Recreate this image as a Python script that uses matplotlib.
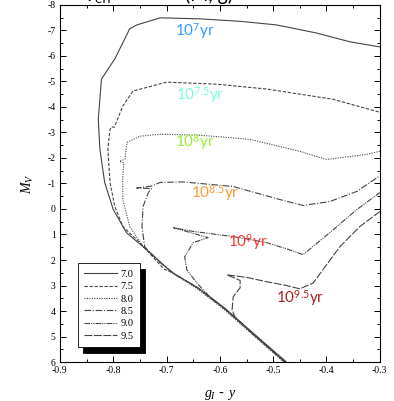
import matplotlib
matplotlib.use("Agg")
import matplotlib.pyplot as plt
from matplotlib.ticker import MultipleLocator, FormatStrFormatter

plt.rcParams['axes.unicode_minus'] = False
plt.rcParams['mathtext.fontset'] = 'custom'
plt.rcParams['mathtext.rm'] = 'Lato'
plt.rcParams['mathtext.it'] = 'Liberation Serif:italic'

# isochrones (log age), traced from bottom of the main sequence upward
x70 = [-0.475, -0.54, -0.59, -0.64, -0.685, -0.70, -0.731, -0.775, -0.80, -0.816,
       -0.825, -0.828, -0.825, -0.822, -0.797, -0.769, -0.756, -0.712, -0.637,
       -0.56, -0.493, -0.42, -0.356, -0.30]
y70 = [6.0, 4.82, 3.9, 3.1, 2.55, 2.3, 1.71, 0.93, 0.02, -1.04,
       -2.34, -3.52, -4.3, -5.09, -5.88, -7.06, -7.21, -7.49, -7.45,
       -7.35, -7.21, -6.9, -6.55, -6.35]

x75 = [-0.478, -0.54, -0.59, -0.64, -0.687, -0.705, -0.75, -0.782, -0.797, -0.806,
       -0.81, -0.806, -0.803, -0.798, -0.782, -0.763, -0.70, -0.606, -0.512,
       -0.388, -0.30]
y75 = [6.0, 4.85, 3.93, 3.12, 2.52, 2.35, 1.32, 0.69, -0.1, -1.04,
       -2.34, -3.12, -3.22, -3.2, -4.03, -4.62, -4.97, -4.89, -4.7,
       -4.3, -3.79]

x80 = [-0.48, -0.542, -0.592, -0.642, -0.69, -0.744, -0.769, -0.782, -0.782, -0.78,
       -0.788, -0.778, -0.774, -0.75, -0.712, -0.637, -0.544, -0.45, -0.40,
       -0.325, -0.30]
y80 = [6.0, 4.86, 3.94, 3.13, 2.5, 1.48, 0.69, -0.37, -1.28, -1.8,
       -1.87, -1.95, -2.61, -2.85, -2.93, -2.89, -2.73, -2.26, -1.94,
       -2.14, -2.26]

x85 = [-0.478, -0.54, -0.59, -0.64, -0.688, -0.712, -0.741, -0.746, -0.744, -0.734,
       -0.728, -0.756, -0.728, -0.712, -0.669, -0.575, -0.4875, -0.444, -0.394,
       -0.343, -0.30]
y85 = [6.0, 4.85, 3.93, 3.12, 2.5, 2.1, 1.48, 0.69, -0.1, -0.65,
       -0.8, -0.82, -0.9, -1.04, -1.06, -0.88, -0.37, -0.14, -0.29,
       -0.69, -1.3]

x90 = [-0.478, -0.54, -0.585, -0.619, -0.643, -0.662, -0.666, -0.65, -0.622, -0.688,
       -0.65, -0.575, -0.512, -0.469, -0.444, -0.394, -0.343, -0.30]
y90 = [6.0, 4.86, 4.0, 3.44, 2.9, 2.38, 1.87, 1.32, 1.12, 0.73,
       0.88, 1.08, 1.32, 1.6, 1.79, 0.93, 0.02, -0.64]

x95 = [-0.476, -0.54, -0.572, -0.577, -0.575, -0.562, -0.562, -0.587, -0.55, -0.512,
       -0.475, -0.45, -0.425, -0.375, -0.3375, -0.30]
y95 = [6.0, 4.87, 4.22, 3.95, 3.44, 3.09, 2.8, 2.58, 2.68, 2.85,
       3.0, 3.13, 2.9, 1.48, 0.69, 0.1]

iso_x = [x70, x75, x80, x85, x90, x95]
iso_y = [y70, y75, y80, y85, y90, y95]
iso_names = ['7.0', '7.5', '8.0', '8.5', '9.0', '9.5']
styles = ['-', (0, (3, 1.5)), (0, (1, 1.2)), (0, (6, 1.5, 1, 1.5)),
          (0, (5, 1, 1, 1, 1, 1)), (0, (7, 1.5))]

# age labels
lab_text = ['10$^{7}$yr', '10$^{7.5}$yr', '10$^{8}$yr', '10$^{8.5}$yr', '10$^{9}$yr', '10$^{9.5}$yr']
lab_x = [-0.647, -0.637, -0.647, -0.609, -0.547, -0.45]
lab_y = [-6.94, -4.42, -2.57, -0.6, 1.33, 3.54]
lab_col = ['#3399ff', '#77ffcc', '#99ee33', '#ff9933', '#ff3333', '#aa2222']

fig = plt.figure(figsize=(3.94, 4.01), dpi=100)
ax = fig.add_axes([0.152, 0.097, 0.812, 0.891])

for xs, ys, nm, ls in zip(iso_x, iso_y, iso_names, styles):
    ax.plot(xs, ys, ls=ls, color='#444444', lw=0.8, label=nm)

for t, x, y, c in zip(lab_text, lab_x, lab_y, lab_col):
    ax.text(x, y, t, color=c, fontsize=11, family='Lato', ha='center', va='center')

ax.set_xlim(-0.9, -0.3)
ax.set_ylim(6, -8)
ax.xaxis.set_major_locator(MultipleLocator(0.1))
ax.xaxis.set_minor_locator(MultipleLocator(0.05))
ax.yaxis.set_major_locator(MultipleLocator(1))
ax.yaxis.set_minor_locator(MultipleLocator(0.5))
ax.xaxis.set_major_formatter(FormatStrFormatter('%.1f'))
ax.yaxis.set_major_formatter(FormatStrFormatter('%d'))
ax.tick_params(which='both', direction='in', top=True, right=True, width=0.7)
ax.tick_params(which='major', length=4, labelsize=7, pad=3)
ax.tick_params(which='minor', length=2.5)
for lb in ax.get_xticklabels() + ax.get_yticklabels():
    lb.set_family('Liberation Serif')
for s in ax.spines.values():
    s.set_linewidth(0.8)

ax.set_xlabel('$g_I$ - $y$', fontsize=10, labelpad=9)
ax.set_ylabel('$M_V$', fontsize=10, labelpad=8)

leg = ax.legend(loc='lower left', bbox_to_anchor=(0.056, 0.042), borderaxespad=0,
                fancybox=False, edgecolor='black', framealpha=1, handlelength=3.2,
                handletextpad=0.3, labelspacing=0.3, borderpad=0.6,
                prop={'family': 'Liberation Serif', 'size': 7.5},
                shadow={'color': 'black', 'alpha': 1, 'ox': 4, 'oy': -4})
leg.get_frame().set_linewidth(0.6)

# title clipped at the top edge of the image
fig.text(0.21, 1.012, 'T$_{\\mathrm{eff}}$', fontsize=14, family='Lato', ha='left', va='center')
fig.text(0.47, 1.012, '(M, g)', fontsize=14, family='Lato', ha='left', va='center')

fig.savefig('out.png', dpi=100)
